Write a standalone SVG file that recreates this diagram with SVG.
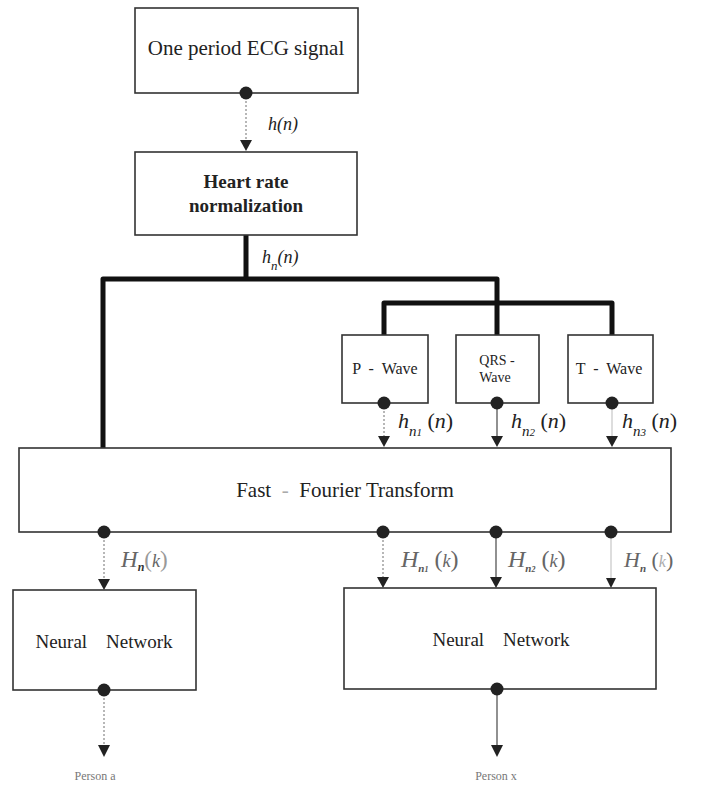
<svg xmlns="http://www.w3.org/2000/svg" width="708" height="787" viewBox="0 0 708 787">
<defs>
<style>
.box{fill:#fff;stroke:#333;stroke-width:1.6}
.t{font-family:"Liberation Serif",serif;fill:#222;text-anchor:middle}
.m{font-family:"Liberation Serif",serif;font-style:italic;fill:#222}
.mg{font-family:"Liberation Serif",serif;font-style:italic;fill:#666}
.thick{fill:none;stroke:#111;stroke-width:5;stroke-linejoin:round;stroke-linecap:round}
.dot{fill:#222}
.tri{fill:#222}
.dl{stroke:#888;stroke-width:1.2;stroke-dasharray:2 2}
.sl{stroke:#555;stroke-width:1.3}
.ll{stroke:#bbb;stroke-width:1}
.p{font-family:"Liberation Serif",serif;fill:#777;font-size:12px;text-anchor:middle}
</style>
</defs>
<rect width="708" height="787" fill="#fff"/>

<g id="connectors">
<path class="thick" d="M246 235 V279 M103 450 V279 H497 V303 M384 335 V303 H612 V335 M497 303 V335"/>
<line class="dl" x1="246" y1="93" x2="246" y2="141"/>
<polygon class="tri" points="240,140 252,140 246,151"/>
<line class="dl" x1="384" y1="403" x2="384" y2="437"/>
<polygon class="tri" points="378,436 390,436 384,447"/>
<line class="sl" x1="497" y1="403" x2="497" y2="437"/>
<polygon class="tri" points="491,436 503,436 497,447"/>
<line class="ll" x1="612" y1="403" x2="612" y2="437"/>
<polygon class="tri" points="606,436 618,436 612,447"/>
<line class="dl" x1="104" y1="532" x2="104" y2="580"/>
<polygon class="tri" points="98,579 110,579 104,590"/>
<line class="dl" x1="383" y1="532" x2="383" y2="578"/>
<polygon class="tri" points="377,577 389,577 383,588"/>
<line class="sl" x1="496" y1="532" x2="496" y2="578"/>
<polygon class="tri" points="490,577 502,577 496,588"/>
<line class="ll" x1="611" y1="532" x2="611" y2="578"/>
<polygon class="tri" points="606,578 616,578 611,588"/>
<line class="dl" x1="104" y1="690" x2="104" y2="746"/>
<polygon class="tri" points="98,745 110,745 104,757"/>
<line class="sl" x1="497" y1="689" x2="497" y2="746"/>
<polygon class="tri" points="491,745 503,745 497,757"/>
</g>

<g id="ecg">
<rect class="box" x="135" y="8" width="223" height="85"/>
<text class="t" x="246" y="55" font-size="21">One period ECG signal</text>
<circle class="dot" cx="246" cy="93" r="6.5"/>
</g>

<g id="hrn">
<rect class="box" x="135" y="152" width="222" height="83"/>
<text class="t" x="246" y="188" font-size="19" font-weight="bold">Heart rate</text>
<text class="t" x="246" y="212" font-size="19" font-weight="bold">normalization</text>
</g>

<g id="pwave">
<rect class="box" x="342" y="335" width="86" height="68"/>
<text class="t" x="385" y="374" font-size="16" xml:space="preserve">P  -  Wave</text>
<circle class="dot" cx="384" cy="403" r="6.5"/>
</g>
<g id="qrs">
<rect class="box" x="456" y="335" width="83" height="68"/>
<text class="t" x="497" y="365" font-size="14">QRS -</text>
<text class="t" x="495" y="382" font-size="14">Wave</text>
<circle class="dot" cx="497" cy="403" r="6.5"/>
</g>
<g id="twave">
<rect class="box" x="568" y="335" width="85" height="68"/>
<text class="t" x="609" y="374" font-size="16" xml:space="preserve">T  -  Wave</text>
<circle class="dot" cx="612" cy="403" r="6.5"/>
</g>

<g id="fft">
<rect class="box" x="19" y="448" width="652" height="84"/>
<text class="t" x="345" y="497" font-size="21" xml:space="preserve">Fast  <tspan fill="#aaa">-</tspan>  Fourier Transform</text>
<circle class="dot" cx="104" cy="532" r="6.5"/>
<circle class="dot" cx="383" cy="532" r="6.5"/>
<circle class="dot" cx="496" cy="532" r="6.5"/>
<circle class="dot" cx="611" cy="532" r="6.5"/>
</g>

<g id="nn1">
<rect class="box" x="13" y="590" width="183" height="100"/>
<text class="t" x="104" y="648" font-size="19" xml:space="preserve">Neural    Network</text>
<circle class="dot" cx="104" cy="690" r="6.5"/>
</g>
<g id="nn2">
<rect class="box" x="344" y="588" width="312" height="101"/>
<text class="t" x="501" y="646" font-size="19" xml:space="preserve">Neural    Network</text>
<circle class="dot" cx="497" cy="689" r="6.5"/>
</g>

<g id="persons">
<text class="p" x="95" y="780">Person a</text>
<text class="p" x="496" y="780">Person x</text>
</g>

<g id="labels">
<text class="m" x="268" y="130" font-size="18">h(n)</text>
<text class="m" x="262" y="263" font-size="18">h<tspan font-size="13" dy="7">n</tspan><tspan dy="-7">(n)</tspan></text>
<text class="m" x="398" y="428" font-size="22">h<tspan font-size="15" dy="8">n<tspan font-size="11">1</tspan></tspan><tspan dy="-8" font-style="normal"> (</tspan>n<tspan font-style="normal">)</tspan></text>
<text class="m" x="511" y="428" font-size="22">h<tspan font-size="15" dy="8">n<tspan font-size="11">2</tspan></tspan><tspan dy="-8" font-style="normal"> (</tspan>n<tspan font-style="normal">)</tspan></text>
<text class="m" x="622" y="428" font-size="22">h<tspan font-size="15" dy="8">n<tspan font-size="11">3</tspan></tspan><tspan dy="-8" font-style="normal"> (</tspan>n<tspan font-style="normal">)</tspan></text>
<text class="mg" x="121" y="567" font-size="23">H<tspan font-size="12" dy="4" fill="#333" font-weight="bold">n</tspan><tspan dy="-4" font-style="normal" fill="#999">(</tspan><tspan font-size="18">k</tspan><tspan font-style="normal" fill="#999">)</tspan></text>
<text class="mg" x="401" y="567" font-size="24">H<tspan font-size="11" dy="5" fill="#555" font-weight="bold">n<tspan font-size="8">1</tspan></tspan><tspan dy="-5" font-style="normal"> (</tspan><tspan font-size="18">k</tspan><tspan font-style="normal">)</tspan></text>
<text class="mg" x="508" y="567" font-size="24">H<tspan font-size="11" dy="5" fill="#555" font-weight="bold">n<tspan font-size="8">2</tspan></tspan><tspan dy="-5" font-style="normal"> (</tspan><tspan font-size="18">k</tspan><tspan font-style="normal">)</tspan></text>
<text class="mg" x="624" y="567" font-size="22" fill="#777">H<tspan font-size="11" dy="5" fill="#555" font-weight="bold">n</tspan><tspan dy="-5" font-style="normal"> (</tspan><tspan font-size="16" fill="#aaa">k</tspan><tspan font-style="normal">)</tspan></text>
</g>
</svg>
